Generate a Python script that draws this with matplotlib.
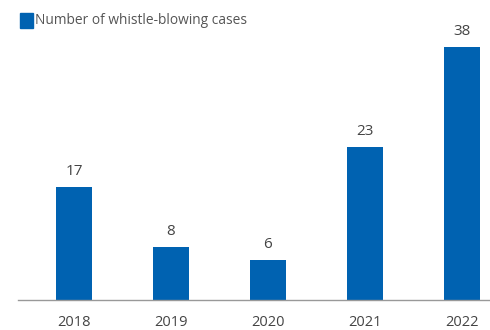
import matplotlib
matplotlib.use("Agg")
from matplotlib import pyplot as plt
from matplotlib.patches import Rectangle

years = ["2018", "2019", "2020", "2021", "2022"]
cases = [17, 8, 6, 23, 38]

BLUE = "#0062b1"
GREY_TEXT = "#444444"

plt.rcParams['font.family'] = ['Open Sans', 'DejaVu Sans']

W, H = 490, 330
fig = plt.figure(figsize=(W / 100, H / 100), dpi=100)
# axes placed in pixel terms: baseline at y=300, left edge at x=18
ax = fig.add_axes([18 / W, 30 / H, 1 - 18 / W, (300 - 33.6) / H])

x = range(len(years))
bars = ax.bar(x, cases, width=0.37, color=BLUE)
for b, v in zip(bars, cases):
    ax.text(b.get_x() + b.get_width() / 2, v + 1.2, str(v),
            ha="center", va="bottom", fontsize=11, color=GREY_TEXT)

ax.set_xlim(-0.577, 4.29)
ax.set_ylim(0, 40)
ax.set_xticks(list(x))
ax.set_xticklabels(years, fontsize=10.5, color=GREY_TEXT)
ax.tick_params(axis="x", length=0, pad=11)
ax.set_yticks([])
for s in ["top", "right", "left"]:
    ax.spines[s].set_visible(False)
ax.spines["bottom"].set_color("#999999")
ax.spines["bottom"].set_linewidth(1)

# legend drawn by hand at top left
fig.patches.append(Rectangle((20 / W, 1 - 28 / H), 13 / W, 15 / H,
                             transform=fig.transFigure, color=BLUE))
fig.text(35 / W, 1 - 20.5 / H, "Number of whistle-blowing cases",
         fontsize=9.9, color="#555555", va="center", ha="left")

fig.savefig("out.png", dpi=100)
